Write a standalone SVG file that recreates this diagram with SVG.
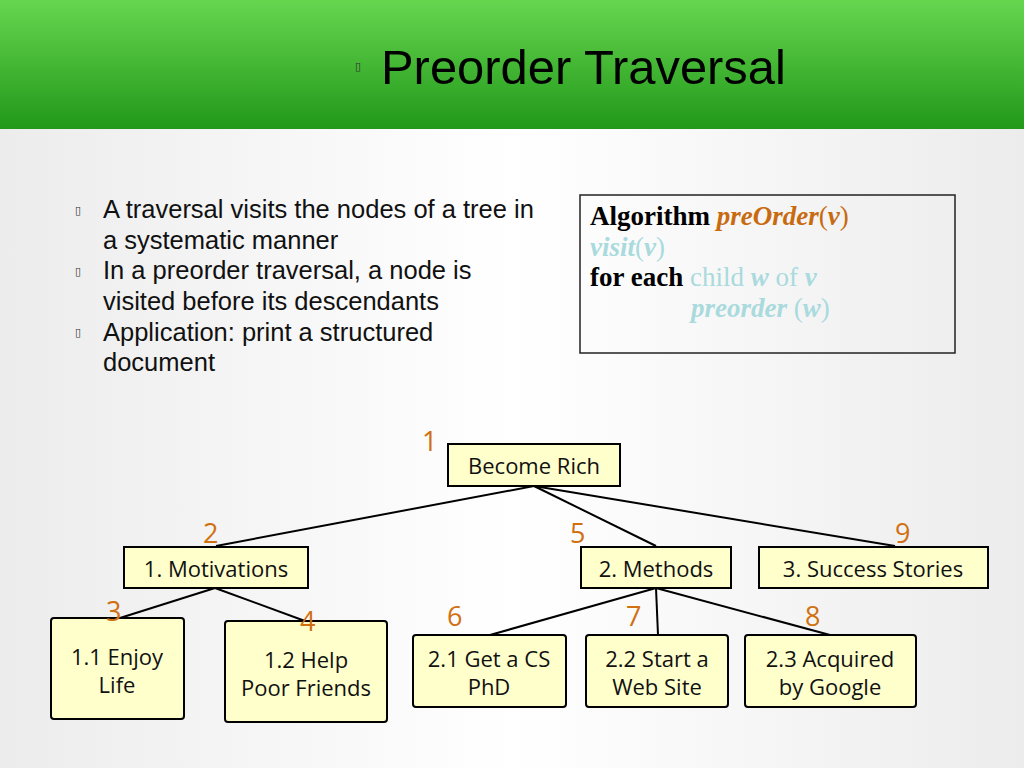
<svg xmlns="http://www.w3.org/2000/svg" width="1024" height="768" viewBox="0 0 1024 768">
<defs>
<linearGradient id="hdr" x1="0" y1="0" x2="0" y2="1"><stop offset="0" stop-color="#66d64f"/><stop offset="1" stop-color="#22981a"/></linearGradient>
<linearGradient id="bg" x1="0" y1="0" x2="1" y2="0"><stop offset="0" stop-color="#ececec"/><stop offset="0.5" stop-color="#ffffff"/><stop offset="1" stop-color="#ececec"/></linearGradient>
<style>
.n rect{fill:#ffffcc;stroke:#000;stroke-width:2}
.n text{font-family:"Open Sans","Noto Sans",sans-serif;font-size:22px;fill:#111;text-anchor:middle}
.num{font-family:"Open Sans","Noto Sans",sans-serif;font-size:27px;fill:#d07010}
.b{font-family:"Liberation Sans",Arial,sans-serif;font-size:25.5px;fill:#111}
.t{font-family:"DejaVu Sans",sans-serif;font-size:11px;fill:#333}
.alg{font-family:"Liberation Serif","Times New Roman",serif;font-size:27px}
.k{font-weight:bold;fill:#000}.o{fill:#c86a10}.c{fill:#a9dadd}
#conn line{stroke:#000;stroke-width:2}
</style>
</defs>
<rect width="1024" height="768" fill="url(#bg)"/>
<rect width="1024" height="129" fill="url(#hdr)"/>
<text x="355" y="70" class="t" font-size="16">▯</text>
<text x="381" y="84" font-family="Liberation Sans,Arial,sans-serif" font-size="48.9" fill="#000">Preorder Traversal</text>
<g class="t"><text x="75" y="214">▯</text><text x="75" y="275">▯</text><text x="75" y="336">▯</text></g>
<g class="b">
<text x="103" y="218">A traversal visits the nodes of a tree in</text>
<text x="103" y="249">a systematic manner</text>
<text x="103" y="279">In a preorder traversal, a node is</text>
<text x="103" y="310">visited before its descendants</text>
<text x="103" y="341">Application: print a structured</text>
<text x="103" y="371">document</text>
</g>
<rect x="580" y="195" width="375" height="158" fill="none" stroke="#222" stroke-width="1.5"/>
<g class="alg">
<text x="590" y="225"><tspan class="k">Algorithm </tspan><tspan class="o" font-weight="bold" font-style="italic">preOrder</tspan><tspan class="o">(</tspan><tspan class="o" font-weight="bold" font-style="italic">v</tspan><tspan class="o">)</tspan></text>
<text x="590" y="256" class="c"><tspan font-weight="bold" font-style="italic">visit</tspan>(<tspan font-weight="bold" font-style="italic">v</tspan>)</text>
<text x="590" y="286"><tspan class="k">for each </tspan><tspan class="c">child <tspan font-weight="bold" font-style="italic">w</tspan> of <tspan font-weight="bold" font-style="italic">v</tspan></tspan></text>
<text x="691" y="317" class="c"><tspan font-weight="bold" font-style="italic">preorder</tspan> (<tspan font-weight="bold" font-style="italic">w</tspan>)</text>
</g>
<g id="conn">
<line x1="534" y1="486" x2="216" y2="546"/>
<line x1="534" y1="486" x2="656" y2="546"/>
<line x1="534" y1="486" x2="895" y2="546"/>
<line x1="215" y1="588" x2="120" y2="618"/>
<line x1="215" y1="588" x2="305" y2="621"/>
<line x1="656" y1="588" x2="490" y2="635"/>
<line x1="656" y1="588" x2="658" y2="635"/>
<line x1="656" y1="588" x2="830" y2="635"/>
</g>
<g id="root" class="n"><rect x="448" y="444" width="172" height="42"/><text x="534" y="474">Become Rich</text></g>
<g id="mot" class="n"><rect x="124" y="547" width="184" height="41"/><text x="216" y="577">1. Motivations</text></g>
<g id="meth" class="n"><rect x="581" y="547" width="150" height="41"/><text x="656" y="577">2. Methods</text></g>
<g id="succ" class="n"><rect x="759" y="547" width="229" height="41"/><text x="873" y="577">3. Success Stories</text></g>
<g id="enjoy" class="n"><rect x="51" y="618" width="133" height="101" rx="3"/><text x="117" y="665">1.1 Enjoy</text><text x="117" y="693">Life</text></g>
<g id="help" class="n"><rect x="225" y="621" width="162" height="101" rx="3"/><text x="306" y="668">1.2 Help</text><text x="306" y="696">Poor Friends</text></g>
<g id="cs" class="n"><rect x="413" y="635" width="153" height="72" rx="3"/><text x="489" y="667">2.1 Get a CS</text><text x="489" y="695">PhD</text></g>
<g id="web" class="n"><rect x="586" y="635" width="142" height="72" rx="3"/><text x="657" y="667">2.2 Start a</text><text x="657" y="695">Web Site</text></g>
<g id="goog" class="n"><rect x="745" y="635" width="171" height="72" rx="3"/><text x="830" y="667">2.3 Acquired</text><text x="830" y="695">by Google</text></g>
<g class="num">
<text x="422" y="451">1</text><text x="203" y="543">2</text><text x="106" y="621">3</text><text x="300" y="631">4</text>
<text x="570" y="543">5</text><text x="447" y="626">6</text><text x="626" y="626">7</text><text x="805" y="626">8</text><text x="895" y="543">9</text>
</g>
</svg>
